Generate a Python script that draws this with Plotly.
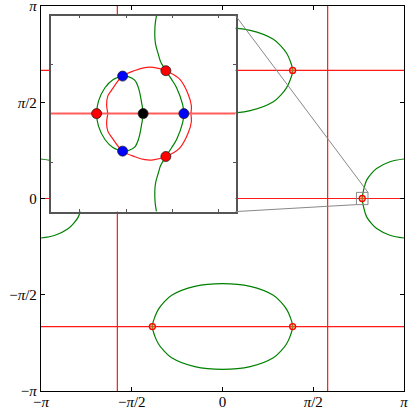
import numpy as np
import plotly.graph_objects as go

PI = np.pi

# --- data ---
red_vlines = [-1.82, 1.82]
red_hlines = [-2.09, 0.0, 2.09]

# ovals centred on (0, +-2.09): contour offsets (dx, dy)
oval_dx = [0.0, 0.48, 0.88, 1.02, 1.11, 1.17, 1.214, 1.17, 1.11, 1.02, 0.88, 0.48, 0.0,
           -0.48, -0.88, -1.02, -1.11, -1.17, -1.214, -1.17, -1.11, -1.02, -0.88, -0.48, 0.0]
oval_dy = [0.70, 0.655, 0.51, 0.39, 0.28, 0.16, 0.0, -0.16, -0.28, -0.39, -0.51, -0.655, -0.70,
           -0.655, -0.51, -0.39, -0.28, -0.16, 0.0, 0.16, 0.28, 0.39, 0.51, 0.655, 0.70]
oval_centers = [2.09, -2.09]

# oval around (pi, 0), wrapping to the left edge
wrap_right_x = [3.1416, 2.898, 2.668, 2.58, 2.495, 2.445, 2.4183, 2.445, 2.495, 2.58, 2.668, 2.898, 3.1416]
wrap_right_y = [0.645, 0.60, 0.49, 0.41, 0.30, 0.15, 0.0, -0.15, -0.30, -0.41, -0.49, -0.60, -0.645]
wrap_left_x = [-3.1416, -2.898, -2.668, -2.58, -2.495, -2.445, -2.4183, -2.445, -2.495, -2.58, -2.668, -2.898, -3.1416]
wrap_left_y = [0.645, 0.60, 0.49, 0.41, 0.30, 0.15, 0.0, -0.15, -0.30, -0.41, -0.49, -0.60, -0.645]

main_pts_x = [1.214, -1.214, 1.214, -1.214, 2.4183, -2.4183]
main_pts_y = [2.09, 2.09, -2.09, -2.09, 0.0, 0.0]

zoom_x, zoom_y, zoom_half = 2.4183, 0.0, 0.1

# inset curves
green_outer_x = [2.3961, 2.3860, 2.3770, 2.3700, 2.3680, 2.3700, 2.3770, 2.3860, 2.3961]
green_outer_y = [0.0383, 0.0349, 0.0264, 0.0128, 0.0, -0.0128, -0.0264, -0.0349, -0.0383]

green_inner_x = [2.3961, 2.4022, 2.4094, 2.4135, 2.4165, 2.4183, 2.4165, 2.4135, 2.4094, 2.4022, 2.3961]
green_inner_y = [0.0383, 0.0378, 0.0340, 0.0255, 0.0120, 0.0, -0.0120, -0.0255, -0.0340, -0.0378, -0.0383]

green_right_x = [2.4327, 2.4311, 2.4316, 2.4348, 2.4372, 2.4429, 2.4491, 2.4545, 2.4610, 2.4624,
                 2.4610, 2.4545, 2.4491, 2.4429, 2.4372, 2.4348, 2.4316, 2.4311, 2.4327]
green_right_y = [0.1, 0.0887, 0.0716, 0.0604, 0.0530, 0.0438, 0.0349, 0.0264, 0.0094, 0.0,
                 -0.0094, -0.0264, -0.0349, -0.0438, -0.0530, -0.0604, -0.0716, -0.0887, -0.1]

red_arc_x = [2.3800, 2.3788, 2.3800, 2.3842, 2.3961, 2.4094, 2.4202, 2.4292, 2.4429,
             2.4581, 2.4671, 2.4705, 2.4700]
red_arc_up = [0.0008, 0.0090, 0.0176, 0.0240, 0.0383, 0.0440, 0.0470, 0.0472, 0.0438,
              0.0349, 0.0196, 0.0080, 0.0008]
red_arc_down = [-v for v in red_arc_up]

red_pts_x = [2.3680, 2.4429, 2.4429]
red_pts_y = [0.0, 0.0438, -0.0438]
blue_pts_x = [2.3961, 2.3961, 2.4624]
blue_pts_y = [0.0383, -0.0383, 0.0]
black_pts_x = [2.4183]
black_pts_y = [0.0]

RED = "#ff1a1a"
GREEN = "#008000"

fig = go.Figure()

# --- main axes ---
for v in red_vlines:
    fig.add_trace(go.Scatter(x=[v, v], y=[-PI, PI], mode="lines",
                             line=dict(color=RED, width=1.2), xaxis="x", yaxis="y"))
for h in red_hlines:
    fig.add_trace(go.Scatter(x=[-PI, PI], y=[h, h], mode="lines",
                             line=dict(color=RED, width=1.2), xaxis="x", yaxis="y"))
for c in oval_centers:
    fig.add_trace(go.Scatter(x=oval_dx, y=[c + d for d in oval_dy], mode="lines",
                             line=dict(color=GREEN, width=1.2, shape="spline"),
                             xaxis="x", yaxis="y"))
for wx, wy in [(wrap_right_x, wrap_right_y), (wrap_left_x, wrap_left_y)]:
    fig.add_trace(go.Scatter(x=wx, y=wy, mode="lines",
                             line=dict(color=GREEN, width=1.2, shape="spline"),
                             xaxis="x", yaxis="y"))
fig.add_trace(go.Scatter(x=main_pts_x, y=main_pts_y, mode="markers",
                         marker=dict(size=6, color="rgba(255,120,60,0.55)",
                                     line=dict(color="red", width=1.3)),
                         xaxis="x", yaxis="y"))

# --- inset ---
fig.add_trace(go.Scatter(x=[zoom_x - zoom_half, zoom_x + zoom_half], y=[0.0, 0.0], mode="lines",
                         line=dict(color="#ff5c5c", width=2), xaxis="x2", yaxis="y2"))
for ry in (red_arc_up, red_arc_down):
    fig.add_trace(go.Scatter(x=red_arc_x, y=ry, mode="lines",
                             line=dict(color=RED, width=1.2, shape="spline"),
                             xaxis="x2", yaxis="y2"))
for gx, gy in [(green_outer_x, green_outer_y), (green_inner_x, green_inner_y),
               (green_right_x, green_right_y)]:
    fig.add_trace(go.Scatter(x=gx, y=gy, mode="lines",
                             line=dict(color=GREEN, width=1.2, shape="spline"),
                             xaxis="x2", yaxis="y2"))
for px, py, col in [(red_pts_x, red_pts_y, "#ff0000"), (blue_pts_x, blue_pts_y, "#0000ff"),
                    (black_pts_x, black_pts_y, "#000000")]:
    fig.add_trace(go.Scatter(x=px, y=py, mode="markers",
                             marker=dict(size=10, color=col, line=dict(color="#222", width=0.8)),
                             xaxis="x2", yaxis="y2"))

tickvals = [-PI, -PI / 2, 0, PI / 2, PI]
ticktext = ["\u2212<i>\u03c0</i>", "\u2212<i>\u03c0</i>/2", "0", "<i>\u03c0</i>/2", "<i>\u03c0</i>"]
edge = PI + 1e-6
main_ax = dict(range=[-edge, edge], tickvals=tickvals, ticktext=ticktext, ticks="inside",
               ticklen=4, tickcolor="black", showline=True, linecolor="black", linewidth=1.3,
               mirror="allticks", showgrid=False, zeroline=False, automargin=False,
               ticklabeloverflow="allow")

ix0, ix1 = 0.0267, 0.536
iy0, iy1 = 0.466, 0.975
inset_ax = dict(ticks="inside", ticklen=3, tickcolor="#555", showline=True, linecolor="#555",
                linewidth=1.5, mirror="allticks", showgrid=False, zeroline=False,
                showticklabels=False, automargin=False)

fig.update_layout(
    width=415, height=411,
    margin=dict(l=41, r=11, t=6, b=20),
    showlegend=False,
    paper_bgcolor="white", plot_bgcolor="white",
    font=dict(family="Liberation Serif", size=15, color="black"),
    xaxis=dict(main_ax, domain=[0, 1], anchor="y", ticklabelstandoff=-3),
    yaxis=dict(main_ax, domain=[0, 1], anchor="x"),
    xaxis2=dict(inset_ax, domain=[ix0, ix1], anchor="y2",
                range=[zoom_x - zoom_half, zoom_x + zoom_half],
                tickvals=[2.35, 2.40, 2.45, 2.50]),
    yaxis2=dict(inset_ax, domain=[iy0, iy1], anchor="x2",
                range=[zoom_y - zoom_half, zoom_y + zoom_half],
                tickvals=[-0.05, 0.05]),
)

# zoom box and connector lines
fig.add_shape(type="rect", xref="x", yref="y",
              x0=zoom_x - zoom_half, x1=zoom_x + zoom_half,
              y0=zoom_y - zoom_half, y1=zoom_y + zoom_half,
              line=dict(color="#888", width=1))


def to_paper(v):
    return (v + PI) / (2 * PI)


fig.add_shape(type="line", xref="paper", yref="paper",
              x0=ix1, y0=iy1, x1=to_paper(zoom_x + zoom_half), y1=to_paper(zoom_y + zoom_half),
              line=dict(color="#888", width=1))
fig.add_shape(type="line", xref="paper", yref="paper",
              x0=ix1, y0=iy0, x1=to_paper(zoom_x - zoom_half), y1=to_paper(zoom_y - zoom_half),
              line=dict(color="#888", width=1))

fig.write_html("out.html", config={"displayModeBar": False},
               post_script="document.body.style.margin='0';")
